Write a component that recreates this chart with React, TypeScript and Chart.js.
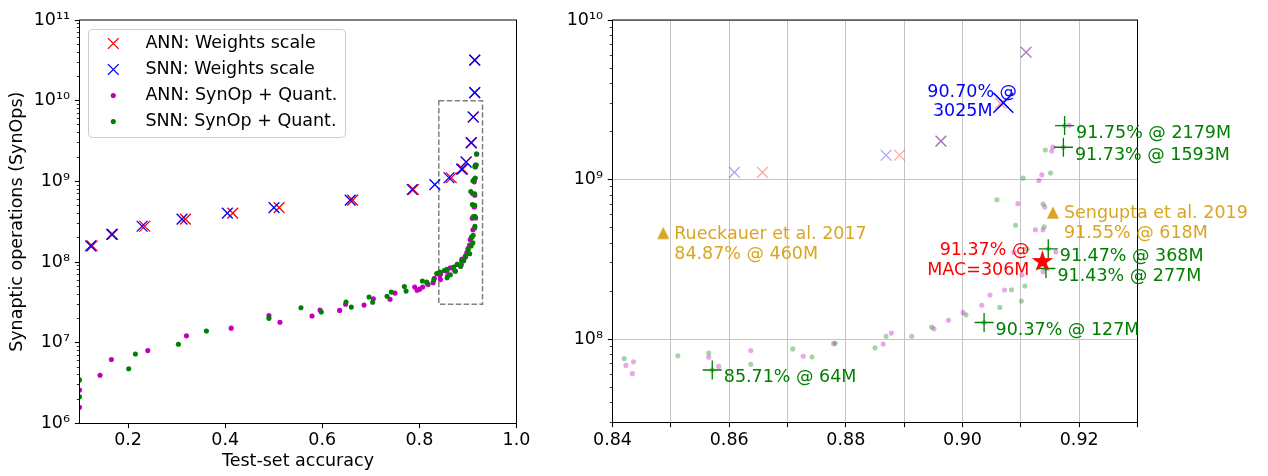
import React, { useEffect, useRef } from 'react';
import { Chart, registerables } from 'chart.js';

Chart.register(...registerables);

const FONT_FAMILY = "'DejaVu Sans', 'Liberation Sans', sans-serif";
const FONT_SIZE = 17.5;

// ---------------- axes / ticks ----------------
const LEFT_X_MIN = 0.1;
const LEFT_X_MAX = 1.0;
const LEFT_X_TICKS = [0.2, 0.4, 0.6, 0.8, 1.0];
const LEFT_X_LABELS = ['0.2', '0.4', '0.6', '0.8', '1.0'];
const LEFT_Y_MIN = 1e6;
const LEFT_Y_MAX = 1e11;

const ZOOM_X_MIN = 0.84;
const ZOOM_X_MAX = 0.93;
const ZOOM_Y_MIN = 3e7;
const ZOOM_Y_MAX = 1e10;
const RIGHT_X_TICKS = [0.84, 0.85, 0.86, 0.87, 0.88, 0.89, 0.9, 0.91, 0.92, 0.93];
const RIGHT_X_LABELS = ['0.84', '', '0.86', '', '0.88', '', '0.90', '', '0.92', ''];

const X_TITLE = 'Test-set accuracy';
const Y_TITLE = 'Synaptic operations (SynOps)';
const LEGEND_LABELS = ['ANN: Weights scale', 'SNN: Weights scale', 'ANN: SynOp + Quant.', 'SNN: SynOp + Quant.'];

// ---------------- data ----------------
const ANN_WS_ACC = [0.1258, 0.1682, 0.2344, 0.3181, 0.4157, 0.5111, 0.6625, 0.7878, 0.8657, 0.8892, 0.8963, 0.9065, 0.9109, 0.914, 0.914];
const ANN_WS_OPS = [1.59e8, 2.2e8, 2.78e8, 3.41e8, 4.04e8, 4.72e8, 5.85e8, 7.94e8, 1.11e9, 1.42e9, 1.74e9, 3.0e9, 6.28e9, 1.26e10, 3.19e10];

const SNN_WS_ACC = [0.1229, 0.1662, 0.2289, 0.3111, 0.4045, 0.5006, 0.6575, 0.7851, 0.8318, 0.8609, 0.8869, 0.8963, 0.907, 0.9109, 0.914, 0.914];
const SNN_WS_OPS = [1.59e8, 2.2e8, 2.78e8, 3.41e8, 4.04e8, 4.72e8, 5.85e8, 7.94e8, 9.14e8, 1.11e9, 1.42e9, 1.74e9, 3.025e9, 6.28e9, 1.26e10, 3.19e10];

const ANN_SQ_ACC = [
  0.1, 0.1, 0.1423, 0.1656, 0.2406, 0.3203, 0.4124, 0.4901, 0.5128, 0.5788, 0.5953, 0.6357, 0.648, 0.686,
  0.7052, 0.7396, 0.7499, 0.7903, 0.7952, 0.8006, 0.8068, 0.818, 0.8283, 0.8309, 0.8423, 0.8434, 0.8436,
  0.8565, 0.8582, 0.8637, 0.8727, 0.8779, 0.8864, 0.8878, 0.8951, 0.8976, 0.9001, 0.9033, 0.9047, 0.9072,
  0.9088, 0.9095, 0.9102, 0.9125, 0.9131, 0.9136, 0.9138, 0.9138, 0.9141, 0.9153, 0.9155, 0.916, 0.9183,
];
const ANN_SQ_OPS = [
  1.59e6, 2.6e6, 3.96e6, 6.2e6, 8.0e6, 1.22e7, 1.52e7, 2.17e7, 1.8e7, 2.15e7, 2.55e7, 2.52e7, 3.01e7, 2.93e7,
  3.52e7, 3.46e7, 4.13e7, 4.92e7, 4.49e7, 4.62e7, 4.92e7, 5.26e7, 5.56e7, 6.28e7, 6.84e7, 6.07e7, 7.2e7,
  7.7e7, 6.74e7, 8.47e7, 7.8e7, 9.36e7, 9.31e7, 1.09e8, 1.16e8, 1.31e8, 1.47e8, 1.63e8, 1.89e8, 2.03e8,
  3.49e8, 7.06e8, 2.52e8, 4.85e8, 9.87e8, 1.07e9, 4.85e8, 2.64e8, 6.74e8, 1.51e9, 1.6e9, 3.52e8, 2.19e9,
];

const SNN_SQ_ACC = [
  0.1, 0.1, 0.2014, 0.2151, 0.3037, 0.3614, 0.4901, 0.5561, 0.598, 0.6489, 0.6598, 0.6963, 0.7037, 0.7334,
  0.7423, 0.7691, 0.7726, 0.8062, 0.8151, 0.8159, 0.8295, 0.8357, 0.842, 0.8512, 0.8565, 0.8571, 0.8637,
  0.8709, 0.8742, 0.8782, 0.885, 0.8869, 0.8913, 0.8947, 0.9006, 0.9037, 0.9059, 0.9064, 0.9084, 0.9091,
  0.9101, 0.9104, 0.9107, 0.9111, 0.9138, 0.914, 0.9142, 0.9143, 0.9147, 0.9151, 0.9173, 0.9175,
];
const SNN_SQ_OPS = [
  2.14e6, 3.47e6, 4.77e6, 7.26e6, 9.6e6, 1.4e7, 2.01e7, 2.72e7, 2.41e7, 3.21e7, 2.77e7, 3.69e7, 3.18e7, 3.77e7,
  4.25e7, 4.98e7, 4.37e7, 5.82e7, 5.66e7, 5.46e7, 5.98e7, 7.2e7, 7.55e7, 7.87e7, 8.16e7, 6.4e7, 6.96e7,
  8.68e7, 7.72e7, 9.4e7, 8.81e7, 1.04e8, 1.04e8, 1.19e8, 1.42e8, 1.27e8, 7.47e8, 1.58e8, 2.04e8, 5.17e8,
  1.73e8, 1.02e9, 2.15e8, 3.67e8, 7.03e8, 5.06e8, 1.53e9, 2.77e8, 3.68e8, 1.1e9, 1.593e9, 2.179e9,
];

// highlighted points (right panel)
const SNN_SEL_ACC = [0.9175, 0.9173, 0.9147, 0.9143, 0.9037, 0.8571];
const SNN_SEL_OPS = [2.179e9, 1.593e9, 3.68e8, 2.77e8, 1.27e8, 6.4e7];
const SNN_SEL_LABELS = ['91.75% @ 2179M', '91.73% @ 1593M', '91.47% @ 368M', '91.43% @ 277M', '90.37% @ 127M', '85.71% @ 64M'];

const SNN_BEST_ACC = [0.907];
const SNN_BEST_OPS = [3.025e9];
const SNN_BEST_LINES = ['90.70% @', '3025M'];

const ANN_BEST_ACC = [0.9137];
const ANN_BEST_OPS = [3.06e8];
const ANN_BEST_LINES = ['91.37% @', 'MAC=306M'];

const PRIOR_ACC = [0.8487, 0.9155];
const PRIOR_OPS = [4.6e8, 6.18e8];
const PRIOR_LINES = [
  ['Rueckauer et al. 2017', '84.87% @ 460M'],
  ['Sengupta et al. 2019', '91.55% @ 618M'],
];

// ---------------- styles ----------------
const RED = '#ff0000';
const BLUE = '#0000ff';
const MAGENTA = '#bf00bf';
const GREEN = '#008000';
const GOLD = '#daa520';
const FADE = 0.35;
const GRID_COLOR = '#c4c4c4';

function rgba(hex: string, a: number) {
  const n = parseInt(hex.slice(1), 16);
  return `rgba(${(n >> 16) & 255},${(n >> 8) & 255},${n & 255},${a})`;
}

const SUP = '⁰¹²³⁴⁵⁶⁷⁸⁹';
function isPow10(v: number) {
  const l = Math.log10(v);
  return Math.abs(l - Math.round(l)) < 1e-6;
}
function powLabel(v: number) {
  const e = Math.round(Math.log10(v));
  return '10' + String(e).split('').map((d) => SUP[+d]).join('');
}
function logTicks(min: number, max: number) {
  const out: number[] = [];
  const e0 = Math.floor(Math.log10(min));
  const e1 = Math.ceil(Math.log10(max));
  for (let e = e0; e <= e1; e++) {
    for (let m = 1; m <= 9; m++) {
      const v = m * Math.pow(10, e);
      if (v >= min * (1 - 1e-9) && v <= max * (1 + 1e-9)) out.push(v);
    }
  }
  return out;
}
function pts(acc: number[], ops: number[]) {
  return acc.map((a, i) => ({ x: a, y: ops[i] }));
}

const font = { family: FONT_FAMILY, size: FONT_SIZE };

// ---------------- marker images ----------------
function makeStar(color: string, R: number) {
  const size = Math.ceil(2 * R + 4);
  const c = document.createElement('canvas');
  c.width = size;
  c.height = size;
  const g = c.getContext('2d')!;
  const cx = size / 2;
  const cy = size / 2;
  const r = R * 0.381966;
  g.beginPath();
  for (let i = 0; i < 10; i++) {
    const ang = -Math.PI / 2 + (i * Math.PI) / 5;
    const rr = i % 2 === 0 ? R : r;
    g.lineTo(cx + rr * Math.cos(ang), cy + rr * Math.sin(ang));
  }
  g.closePath();
  g.fillStyle = color;
  g.fill();
  g.strokeStyle = color;
  g.lineWidth = 1.3;
  g.lineJoin = 'miter';
  g.stroke();
  return c;
}
function makeTriangle(color: string, h: number) {
  const size = Math.ceil(2 * h + 4);
  const c = document.createElement('canvas');
  c.width = size;
  c.height = size;
  const g = c.getContext('2d')!;
  const cx = size / 2;
  const cy = size / 2;
  g.beginPath();
  g.moveTo(cx, cy - h);
  g.lineTo(cx - h, cy + h);
  g.lineTo(cx + h, cy + h);
  g.closePath();
  g.fillStyle = color;
  g.fill();
  g.strokeStyle = color;
  g.lineWidth = 1.3;
  g.stroke();
  return c;
}

// ---------------- plugins ----------------
const framePlugin = {
  id: 'frameTicks',
  afterDraw(chart: any) {
    const { ctx, chartArea: a, scales } = chart;
    ctx.save();
    ctx.strokeStyle = '#000';
    const xs = scales.x;
    const ys = scales.y;
    for (const t of xs.ticks) {
      const p = Math.floor(xs.getPixelForValue(t.value)) + 0.5;
      ctx.lineWidth = 1.07;
      ctx.beginPath();
      ctx.moveTo(p, a.bottom);
      ctx.lineTo(p, a.bottom + 4.7);
      ctx.stroke();
    }
    for (const t of ys.ticks) {
      const major = isPow10(t.value);
      const p = Math.floor(ys.getPixelForValue(t.value)) + 0.5;
      ctx.lineWidth = major ? 1.07 : 0.8;
      ctx.beginPath();
      ctx.moveTo(a.left, p);
      ctx.lineTo(a.left - (major ? 4.7 : 2.7), p);
      ctx.stroke();
    }
    ctx.lineWidth = 1;
    ctx.strokeRect(a.left, a.top, a.right - a.left, a.bottom - a.top);
    ctx.restore();
  },
};

const zoomBoxPlugin = {
  id: 'zoomBox',
  beforeDatasetsDraw(chart: any) {
    const { ctx, scales } = chart;
    const x0 = scales.x.getPixelForValue(ZOOM_X_MIN);
    const x1 = scales.x.getPixelForValue(ZOOM_X_MAX);
    const y0 = scales.y.getPixelForValue(ZOOM_Y_MIN);
    const y1 = scales.y.getPixelForValue(ZOOM_Y_MAX);
    ctx.save();
    ctx.strokeStyle = '#808080';
    ctx.lineWidth = 1.5;
    ctx.setLineDash([5.5, 2.4]);
    ctx.strokeRect(x0, y1, x1 - x0, y0 - y1);
    ctx.restore();
  },
};

const boxLegendPlugin = {
  id: 'boxLegend',
  afterDraw(chart: any) {
    const { ctx, chartArea: a } = chart;
    const bx = a.left + 9;
    const by = a.top + 9.5;
    const bw = 257;
    const bh = 108;
    const r = 4;
    ctx.save();
    ctx.beginPath();
    ctx.moveTo(bx + r, by);
    ctx.arcTo(bx + bw, by, bx + bw, by + bh, r);
    ctx.arcTo(bx + bw, by + bh, bx, by + bh, r);
    ctx.arcTo(bx, by + bh, bx, by, r);
    ctx.arcTo(bx, by, bx + bw, by, r);
    ctx.closePath();
    ctx.fillStyle = 'rgba(255,255,255,0.8)';
    ctx.fill();
    ctx.strokeStyle = '#cccccc';
    ctx.lineWidth = 1;
    ctx.stroke();
    const ds = chart.data.datasets;
    ctx.font = `${FONT_SIZE}px ${FONT_FAMILY}`;
    ctx.textBaseline = 'middle';
    ctx.textAlign = 'left';
    LEGEND_LABELS.forEach((lab, i) => {
      const cy = by + 14 + i * 26;
      const mx = bx + 24.8;
      const d = ds[i];
      if (d.pointStyle === 'crossRot') {
        const h = d.pointRadius * Math.SQRT1_2;
        ctx.strokeStyle = d.pointBorderColor;
        ctx.lineWidth = d.pointBorderWidth;
        ctx.beginPath();
        ctx.moveTo(mx - h, cy - h);
        ctx.lineTo(mx + h, cy + h);
        ctx.moveTo(mx + h, cy - h);
        ctx.lineTo(mx - h, cy + h);
        ctx.stroke();
      } else {
        ctx.fillStyle = d.pointBackgroundColor;
        ctx.beginPath();
        ctx.arc(mx, cy, d.pointRadius, 0, Math.PI * 2);
        ctx.fill();
      }
      ctx.fillStyle = '#000';
      ctx.fillText(lab, bx + 56.9, cy);
    });
    ctx.restore();
  },
};

const notesPlugin = {
  id: 'notes',
  afterDraw(chart: any) {
    const { ctx, scales } = chart;
    const px = (v: number) => scales.x.getPixelForValue(v);
    const py = (v: number) => scales.y.getPixelForValue(v);
    ctx.save();
    ctx.font = `${FONT_SIZE}px ${FONT_FAMILY}`;
    ctx.textBaseline = 'middle';

    ctx.textAlign = 'left';
    ctx.fillStyle = GREEN;
    SNN_SEL_LABELS.forEach((t, i) => {
      ctx.fillText(t, px(SNN_SEL_ACC[i]) + 11.5, py(SNN_SEL_OPS[i]) + 7.9);
    });

    ctx.fillStyle = BLUE;
    const bx = px(SNN_BEST_ACC[0]);
    const by = py(SNN_BEST_OPS[0]);
    ctx.fillText(SNN_BEST_LINES[0], bx - 76, by - 10.5);
    ctx.fillText(SNN_BEST_LINES[1], bx - 70.4, by + 8.5);

    ctx.fillStyle = RED;
    ctx.textAlign = 'right';
    const ax = px(ANN_BEST_ACC[0]);
    const ay = py(ANN_BEST_OPS[0]);
    ctx.fillText(ANN_BEST_LINES[0], ax - 13, ay - 11.3);
    ctx.fillText(ANN_BEST_LINES[1], ax - 13, ay + 8.7);

    ctx.fillStyle = GOLD;
    ctx.textAlign = 'left';
    PRIOR_LINES.forEach((lines, i) => {
      const x0 = px(PRIOR_ACC[i]) + 11;
      const y0 = py(PRIOR_OPS[i]);
      ctx.fillText(lines[0], x0, y0 + 1);
      ctx.fillText(lines[1], x0, y0 + 21);
    });
    ctx.restore();
  },
};

// ---------------- configs ----------------
function baseOptions(): any {
  return {
    responsive: false,
    maintainAspectRatio: false,
    animation: false,
    devicePixelRatio: 1,
    events: [],
    plugins: {
      legend: { display: false },
      tooltip: { enabled: false },
      title: { display: false },
    },
  };
}

function xDataset(label: string, acc: number[], ops: number[], color: string, radius = 7.6, width = 1.33, style: any = 'crossRot') {
  return {
    label,
    data: pts(acc, ops),
    pointStyle: style,
    pointRadius: radius,
    pointBorderWidth: width,
    pointBorderColor: color,
    pointBackgroundColor: color,
    showLine: false,
    clip: 0,
  };
}
function dotDataset(label: string, acc: number[], ops: number[], color: string) {
  return {
    label,
    data: pts(acc, ops),
    pointStyle: 'circle',
    pointRadius: 2.55,
    pointBorderWidth: 0,
    pointBorderColor: color,
    pointBackgroundColor: color,
    showLine: false,
    clip: 0,
  };
}
// later datasets are painted on top (like matplotlib's call order)
function stackInOrder(ds: any[]) {
  return ds.map((d, i) => ({ ...d, order: -i }));
}

function leftConfig(): any {
  const yTicks = logTicks(LEFT_Y_MIN, LEFT_Y_MAX);
  const opts = baseOptions();
  opts.layout = { padding: { left: 0, right: 43.5, top: 10.5, bottom: 0 } };
  opts.scales = {
    x: {
      type: 'linear',
      min: LEFT_X_MIN,
      max: LEFT_X_MAX,
      bounds: 'data',
      afterBuildTicks: (s: any) => {
        s.ticks = LEFT_X_TICKS.map((v) => ({ value: v }));
      },
      afterFit: (s: any) => {
        s.height = 52.5;
      },
      grid: { display: false, drawTicks: false },
      border: { display: false },
      ticks: {
        autoSkip: false,
        maxRotation: 0,
        minRotation: 0,
        padding: 6,
        color: '#000',
        font,
        callback: (_v: any, i: number) => LEFT_X_LABELS[i],
      },
      title: { display: true, text: X_TITLE, color: '#000', font, padding: { top: 0, bottom: 4 } },
    },
    y: {
      type: 'logarithmic',
      min: LEFT_Y_MIN,
      max: LEFT_Y_MAX,
      bounds: 'data',
      afterBuildTicks: (s: any) => {
        s.ticks = yTicks.map((v) => ({ value: v, major: isPow10(v) }));
      },
      afterFit: (s: any) => {
        s.width = 79.5;
      },
      grid: { display: false, drawTicks: false },
      border: { display: false },
      ticks: {
        autoSkip: false,
        padding: 9.5,
        color: '#000',
        font,
        callback: (v: any) => (isPow10(Number(v)) ? powLabel(Number(v)) : ''),
      },
      title: { display: true, text: Y_TITLE, color: '#000', font, padding: { top: 7, bottom: 0 } },
    },
  };
  return {
    type: 'scatter',
    data: {
      datasets: stackInOrder([
        xDataset(LEGEND_LABELS[0], ANN_WS_ACC, ANN_WS_OPS, RED),
        xDataset(LEGEND_LABELS[1], SNN_WS_ACC, SNN_WS_OPS, BLUE),
        dotDataset(LEGEND_LABELS[2], ANN_SQ_ACC, ANN_SQ_OPS, MAGENTA),
        dotDataset(LEGEND_LABELS[3], SNN_SQ_ACC, SNN_SQ_OPS, GREEN),
      ]),
    },
    options: opts,
    plugins: [zoomBoxPlugin, framePlugin, boxLegendPlugin],
  };
}

function rightConfig(): any {
  const yTicks = logTicks(ZOOM_Y_MIN, ZOOM_Y_MAX);
  const opts = baseOptions();
  opts.layout = { padding: { left: 0, right: 130.5, top: 10.5, bottom: 0 } };
  opts.scales = {
    x: {
      type: 'linear',
      min: ZOOM_X_MIN,
      max: ZOOM_X_MAX,
      bounds: 'data',
      afterBuildTicks: (s: any) => {
        s.ticks = RIGHT_X_TICKS.map((v) => ({ value: v }));
      },
      afterFit: (s: any) => {
        s.height = 53.5;
      },
      grid: { display: true, drawTicks: false, color: GRID_COLOR, lineWidth: 1 },
      border: { display: false },
      ticks: {
        autoSkip: false,
        maxRotation: 0,
        minRotation: 0,
        padding: 7,
        color: '#000',
        font,
        callback: (_v: any, i: number) => RIGHT_X_LABELS[i],
      },
    },
    y: {
      type: 'logarithmic',
      min: ZOOM_Y_MIN,
      max: ZOOM_Y_MAX,
      bounds: 'data',
      afterBuildTicks: (s: any) => {
        s.ticks = yTicks.map((v) => ({ value: v, major: isPow10(v) }));
      },
      afterFit: (s: any) => {
        s.width = 52.5;
      },
      grid: {
        display: true,
        drawTicks: false,
        lineWidth: 1,
        color: (c: any) => (c.tick && isPow10(c.tick.value) ? GRID_COLOR : 'rgba(0,0,0,0)'),
      },
      border: { display: false },
      ticks: {
        autoSkip: false,
        padding: 9.5,
        color: '#000',
        font,
        callback: (v: any) => (isPow10(Number(v)) ? powLabel(Number(v)) : ''),
      },
    },
  };
  const star = makeStar(RED, 9.3);
  const tri = makeTriangle(GOLD, 5);
  return {
    type: 'scatter',
    data: {
      datasets: stackInOrder([
        xDataset(LEGEND_LABELS[0], ANN_WS_ACC, ANN_WS_OPS, rgba(RED, FADE)),
        xDataset(LEGEND_LABELS[1], SNN_WS_ACC, SNN_WS_OPS, rgba(BLUE, FADE)),
        dotDataset(LEGEND_LABELS[2], ANN_SQ_ACC, ANN_SQ_OPS, rgba(MAGENTA, FADE)),
        dotDataset(LEGEND_LABELS[3], SNN_SQ_ACC, SNN_SQ_OPS, rgba(GREEN, FADE)),
        xDataset('SNN best', SNN_BEST_ACC, SNN_BEST_OPS, BLUE, 14.1, 1.5),
        xDataset('SNN selected', SNN_SEL_ACC, SNN_SEL_OPS, GREEN, 9.5, 1.33, 'cross'),
        xDataset('ANN MAC', ANN_BEST_ACC, ANN_BEST_OPS, RED, 10, 0, star),
        xDataset('Prior work', PRIOR_ACC, PRIOR_OPS, GOLD, 7, 0, tri),
      ]),
    },
    options: opts,
    plugins: [framePlugin, notesPlugin],
  };
}

export default function App() {
  const leftRef = useRef<HTMLCanvasElement>(null);
  const rightRef = useRef<HTMLCanvasElement>(null);
  useEffect(() => {
    const left = new Chart(leftRef.current as HTMLCanvasElement, leftConfig());
    const right = new Chart(rightRef.current as HTMLCanvasElement, rightConfig());
    return () => {
      left.destroy();
      right.destroy();
    };
  }, []);
  return (
    <div style={{ position: 'absolute', left: 0, top: 0, width: 1268, height: 476, background: '#fff', overflow: 'hidden' }}>
      <canvas ref={leftRef} width={560} height={476} style={{ position: 'absolute', left: 0, top: 0, width: 560, height: 476 }} />
      <canvas ref={rightRef} width={708} height={476} style={{ position: 'absolute', left: 560, top: 0, width: 708, height: 476 }} />
    </div>
  );
}
